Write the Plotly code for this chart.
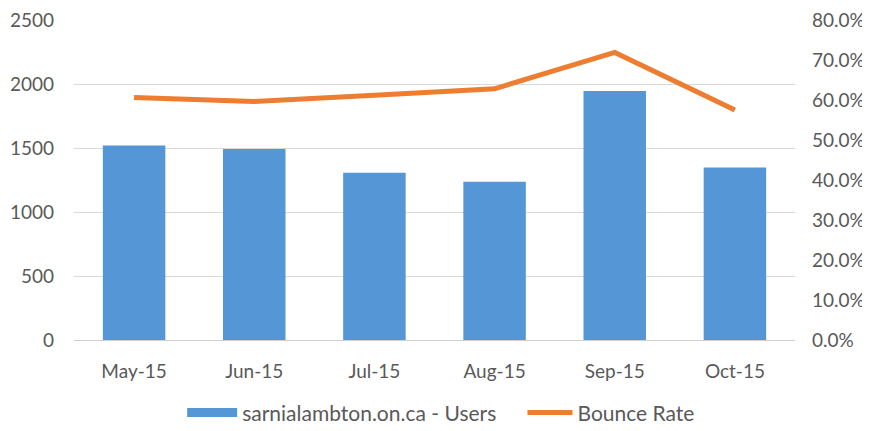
import plotly.graph_objects as go

months = ["May-15", "Jun-15", "Jul-15", "Aug-15", "Sep-15", "Oct-15"]
users = [1520, 1492, 1306, 1236, 1946, 1348]
bounce_rate = [0.606, 0.596, 0.612, 0.628, 0.719, 0.575]

FONT = "Lato, Open Sans, sans-serif"
TXT = "#595959"
BLUE = "#5596D6"
ORANGE = "#ED7D31"
FS = 19

fig = go.Figure()
fig.add_trace(go.Bar(
    x=months, y=users, name="sarnialambton.on.ca - Users",
    marker=dict(color=BLUE, line=dict(width=0)),
    yaxis="y", showlegend=False,
))
# legend entry with a wide rectangular swatch
fig.add_trace(go.Scatter(
    x=[None], y=[None], name="sarnialambton.on.ca - Users", mode="lines",
    line=dict(color=BLUE, width=9), showlegend=True, legend="legend",
))
fig.add_trace(go.Scatter(
    x=months, y=bounce_rate, name="Bounce Rate", mode="lines",
    line=dict(color=ORANGE, width=5),
    yaxis="y2", legend="legend2",
))

leg_common = dict(orientation="h", y=-0.228, yanchor="middle", xanchor="left",
                  font=dict(size=21, color=TXT), itemclick=False,
                  bgcolor="rgba(0,0,0,0)")

fig.update_layout(
    width=870, height=431,
    margin=dict(l=66, r=83, t=12, b=99, autoexpand=False),
    paper_bgcolor="white", plot_bgcolor="white",
    font=dict(family=FONT, size=FS, color=TXT),
    bargap=0.48,
    showlegend=True,
    legend=dict(x=0.150, itemwidth=50, **leg_common),
    legend2=dict(x=0.622, itemwidth=45, **leg_common),
    xaxis=dict(showgrid=False, showline=False, ticks="", tickfont=dict(size=FS, color=TXT),
               ticklabelstandoff=18, ticklabeloverflow="allow"),
    yaxis=dict(range=[0, 2500], dtick=500, showgrid=True, gridcolor="#D9D9D9", gridwidth=1,
               zeroline=True, zerolinecolor="#CFCFCF", zerolinewidth=1,
               showline=False, ticks="", tickfont=dict(size=FS, color=TXT),
               ticklabelstandoff=19, ticklabeloverflow="allow"),
    yaxis2=dict(range=[0, 0.8], dtick=0.1, tickformat=".1%", overlaying="y", side="right",
                showgrid=False, zeroline=False, showline=False, ticks="",
                tickfont=dict(size=FS, color=TXT), ticklabelstandoff=16,
                ticklabeloverflow="allow"),
)

fig.write_html("out.html")
